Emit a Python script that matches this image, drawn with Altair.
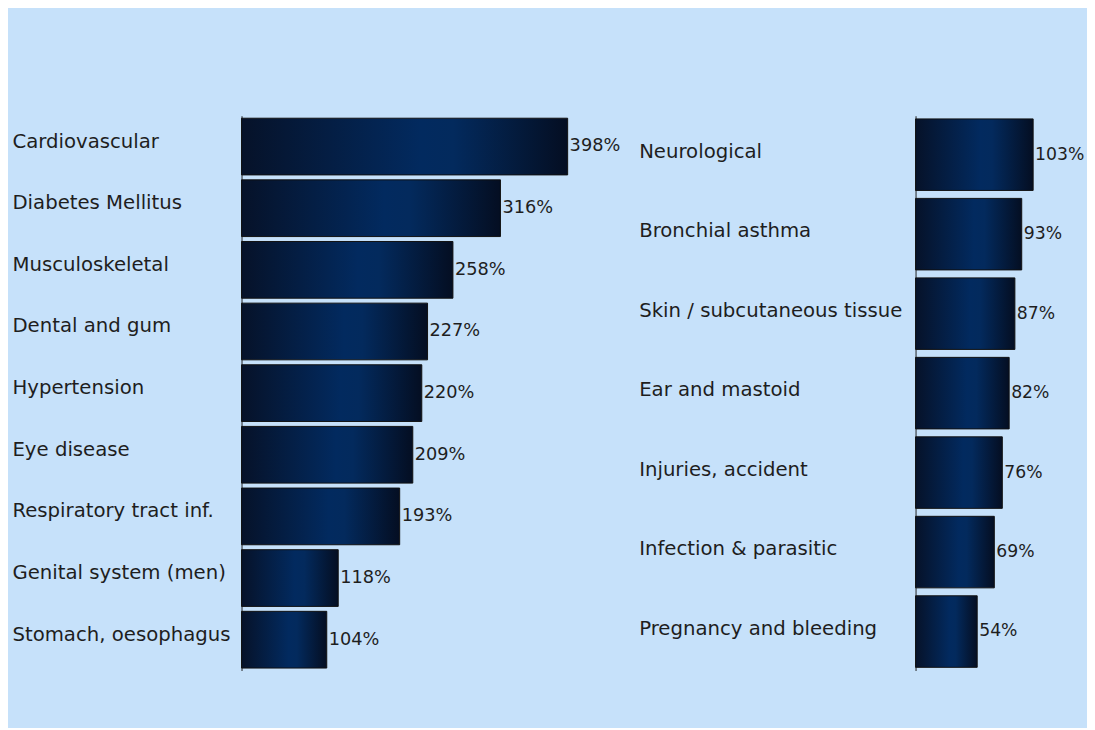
import altair as alt
import pandas as pd

left_cats = ["Cardiovascular", "Diabetes Mellitus", "Musculoskeletal", "Dental and gum",
             "Hypertension", "Eye disease", "Respiratory tract inf.", "Genital system (men)",
             "Stomach, oesophagus"]
left_vals = [398, 316, 258, 227, 220, 209, 193, 118, 104]

right_cats = ["Neurological", "Bronchial asthma", "Skin / subcutaneous tissue", "Ear and mastoid",
              "Injuries, accident", "Infection & parasitic", "Pregnancy and bleeding"]
right_vals = [103, 93, 87, 82, 76, 69, 54]

FONT = "DejaVu Sans"
BG = "#c6e1fa"

grad = alt.Gradient(
    gradient="linear",
    stops=[
        alt.GradientStop(color="#061229", offset=0),
        alt.GradientStop(color="#022a5f", offset=0.55),
        alt.GradientStop(color="#032a5d", offset=0.65),
        alt.GradientStop(color="#040e22", offset=1),
    ],
    x1=0, x2=1, y1=0, y2=0,
)


def panel(cats, vals, width, xmax, label_pad, label_offset, pad_inner, val_size):
    df = pd.DataFrame({"cat": cats, "val": vals})
    df["txt"] = df["val"].astype(str) + "%"
    base = alt.Chart(df).encode(
        y=alt.Y("cat:N", sort=None,
                scale=alt.Scale(paddingInner=pad_inner, paddingOuter=0.04),
                axis=alt.Axis(title=None, labelAlign="left", labelPadding=label_pad,
                              labelOffset=label_offset, ticks=False, domainColor="#222222",
                              labelFont=FONT, labelFontSize=20, labelColor="#1e1e1e",
                              labelLimit=400, grid=False)),
        x=alt.X("val:Q", scale=alt.Scale(domain=[0, xmax], nice=False), axis=None),
    )
    bars = base.mark_bar(color=grad, stroke="#111111", strokeWidth=1)
    text = base.mark_text(align="left", baseline="middle", dx=2, font=FONT, fontSize=val_size,
                          color="#1e1e1e").encode(text="txt:N")
    return (bars + text).properties(width=width, height=563)


left = panel(left_cats, left_vals, 380, 457, 233, -5, 0.08, 18)
right = panel(right_cats, right_vals, 146, 126, 281, -3, 0.1, 17.5)

chart = alt.hconcat(left, right, spacing=18).properties(
    padding={"left": 4, "top": 104, "right": 2, "bottom": 53},
    background=BG,
).configure_view(stroke=None)

chart.save("out.html", embed_options={"renderer": "svg", "actions": False})
